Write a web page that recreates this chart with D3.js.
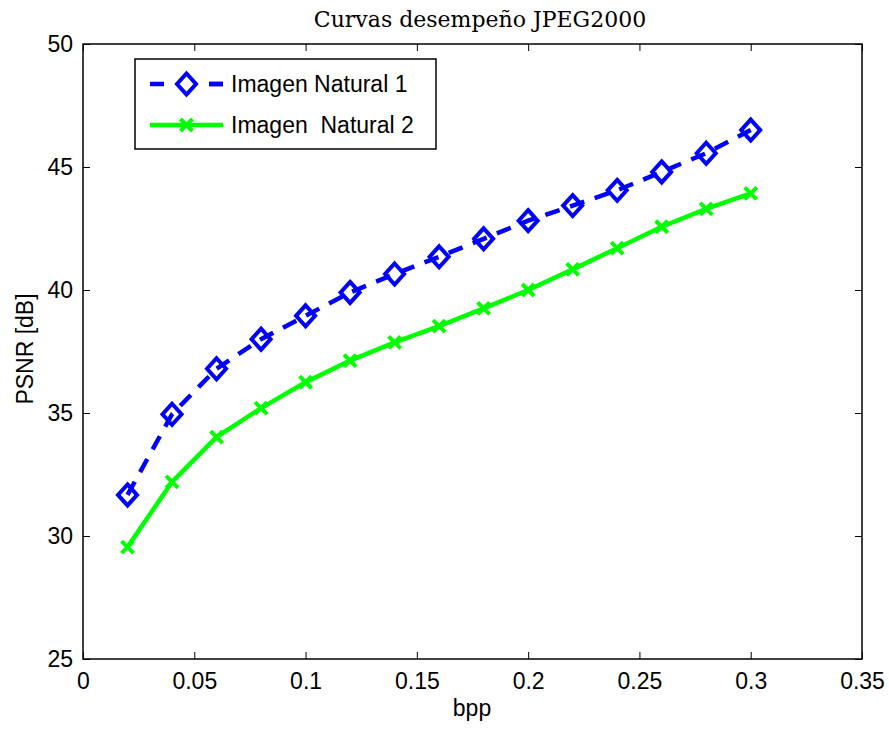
<!DOCTYPE html>
<html>
<head>
<meta charset="utf-8">
<script src="https://d3js.org/d3.v7.min.js"></script>
<style>
  body { margin: 0; background: #fff; }
  text { font-family: "Liberation Sans", Arial, sans-serif; fill: #000; }
</style>
</head>
<body>
<div id="chart"></div>
<script>
// Data
var bpp = [0.02, 0.04, 0.06, 0.08, 0.10, 0.12, 0.14, 0.16, 0.18, 0.20, 0.22, 0.24, 0.26, 0.28, 0.30];
var natural1 = [31.67, 34.95, 36.8, 38.0, 38.95, 39.9, 40.65, 41.35, 42.08, 42.82, 43.43, 44.05, 44.8, 45.56, 46.5];
var natural2 = [29.55, 32.2, 34.02, 35.2, 36.25, 37.13, 37.87, 38.53, 39.25, 40.0, 40.84, 41.7, 42.57, 43.3, 43.93];
var xTicks = [0, 0.05, 0.1, 0.15, 0.2, 0.25, 0.3, 0.35];
var yTicks = [25, 30, 35, 40, 45, 50];
var seriesNames = ["Imagen Natural 1", "Imagen  Natural 2"];

var width = 889;
var height = 729;

// plot box (window.top is taken, so prefixed names)
var pLeft = 83, pRight = 862, pTop = 44, pBottom = 659;

var svg = d3
    .select("#chart")
    .append("svg")
    .attr("width", width)
    .attr("height", height);

var x = d3.scaleLinear().domain([0, 0.35]).range([pLeft, pRight]);
var y = d3.scaleLinear().domain([25, 50]).range([pBottom, pTop]);

// Axes box with inward ticks
var tickLen = 7;
var fmt = function(d){ return String(+d.toFixed(2)); };

svg.append("g")
    .attr("class", "xAxis")
    .attr("transform", `translate(0,${pBottom})`)
    .call(d3.axisBottom(x).tickValues(xTicks).tickSizeInner(-tickLen).tickSizeOuter(0).tickPadding(14).tickFormat(fmt));

svg.append("g")
    .attr("transform", `translate(0,${pTop})`)
    .call(d3.axisTop(x).tickValues(xTicks).tickSizeInner(-tickLen).tickSizeOuter(0).tickFormat(""));

svg.append("g")
    .attr("class", "yAxis")
    .attr("transform", `translate(${pLeft},0)`)
    .call(d3.axisLeft(y).tickValues(yTicks).tickSizeInner(-tickLen).tickSizeOuter(0).tickPadding(10));

svg.append("g")
    .attr("transform", `translate(${pRight},0)`)
    .call(d3.axisRight(y).tickValues(yTicks).tickSizeInner(-tickLen).tickSizeOuter(0).tickFormat(""));

svg.selectAll(".domain").remove();
svg.selectAll(".tick line").attr("stroke", "#000").attr("stroke-width", 1);
svg.selectAll(".xAxis text, .yAxis text")
    .attr("font-size", 23)
    .attr("font-family", "Liberation Sans, Arial, sans-serif");

svg.append("rect")
    .attr("x", pLeft)
    .attr("y", pTop)
    .attr("width", pRight - pLeft)
    .attr("height", pBottom - pTop)
    .attr("fill", "none")
    .attr("stroke", "#000")
    .attr("stroke-width", 1.5);

// Lines
var line = d3.line()
    .x(function(d){ return x(d[0]); })
    .y(function(d){ return y(d[1]); });

var data1 = bpp.map(function(b, i){ return [b, natural1[i]]; });
var data2 = bpp.map(function(b, i){ return [b, natural2[i]]; });

var blue = "#0000ff";
var green = "#00ff00";

svg.append("path")
    .datum(data2)
    .attr("d", line)
    .attr("fill", "none")
    .attr("stroke", green)
    .attr("stroke-width", 4.5);

svg.append("path")
    .datum(data1)
    .attr("d", line)
    .attr("fill", "none")
    .attr("stroke", blue)
    .attr("stroke-width", 4.5)
    .attr("stroke-dasharray", "15,11");

// markers
var diamond = "M0,-10.5 L9.5,0 L0,10.5 L-9.5,0 Z";
var cross = "M-6,-6 L6,6 M-6,6 L6,-6";

svg.selectAll(".d1")
    .data(data1)
    .enter()
    .append("path")
    .attr("class", "d1")
    .attr("transform", function(d){ return `translate(${x(d[0])},${y(d[1])})`; })
    .attr("d", diamond)
    .attr("fill", "none")
    .attr("stroke", blue)
    .attr("stroke-width", 4);

svg.selectAll(".d2")
    .data(data2)
    .enter()
    .append("path")
    .attr("class", "d2")
    .attr("transform", function(d){ return `translate(${x(d[0])},${y(d[1])})`; })
    .attr("d", cross)
    .attr("fill", "none")
    .attr("stroke", green)
    .attr("stroke-width", 4);

// Legend
var legend = svg.append("g").attr("class", "legend");

legend.append("rect")
    .attr("x", 135)
    .attr("y", 59)
    .attr("width", 301)
    .attr("height", 90)
    .attr("fill", "#fff")
    .attr("stroke", "#000")
    .attr("stroke-width", 1.5);

legend.append("line")
    .attr("x1", 150).attr("x2", 223)
    .attr("y1", 84).attr("y2", 84)
    .attr("stroke", blue)
    .attr("stroke-width", 4.5)
    .attr("stroke-dasharray", "14,45");

legend.append("line")
    .attr("x1", 209).attr("x2", 223)
    .attr("y1", 84).attr("y2", 84)
    .attr("stroke", blue)
    .attr("stroke-width", 4.5);

legend.append("path")
    .attr("transform", "translate(186.5,84)")
    .attr("d", diamond)
    .attr("fill", "none")
    .attr("stroke", blue)
    .attr("stroke-width", 4);

legend.append("line")
    .attr("x1", 150).attr("x2", 223)
    .attr("y1", 125).attr("y2", 125)
    .attr("stroke", green)
    .attr("stroke-width", 4.5);

legend.append("path")
    .attr("transform", "translate(186.5,125)")
    .attr("d", cross)
    .attr("fill", "none")
    .attr("stroke", green)
    .attr("stroke-width", 4);

legend.selectAll(".lText")
    .data(seriesNames)
    .enter()
    .append("text")
    .attr("class", "lText")
    .attr("x", 231)
    .attr("y", function(d, i){ return 92 + i * 41; })
    .attr("font-size", 23)
    .style("white-space", "pre")
    .text(function(d){ return d; });

// Title and axis labels
svg.append("text")
    .attr("x", 480)
    .attr("y", 27)
    .attr("text-anchor", "middle")
    .attr("font-size", 22)
    .style("font-family", "'DejaVu Serif', serif")
    .text("Curvas desempeño JPEG2000");

svg.append("text")
    .attr("x", 472)
    .attr("y", 716)
    .attr("text-anchor", "middle")
    .attr("font-size", 23)
    .text("bpp");

svg.append("text")
    .attr("transform", "translate(33,349) rotate(-90)")
    .attr("text-anchor", "middle")
    .attr("font-size", 23)
    .text("PSNR [dB]");
</script>
</body>
</html>
